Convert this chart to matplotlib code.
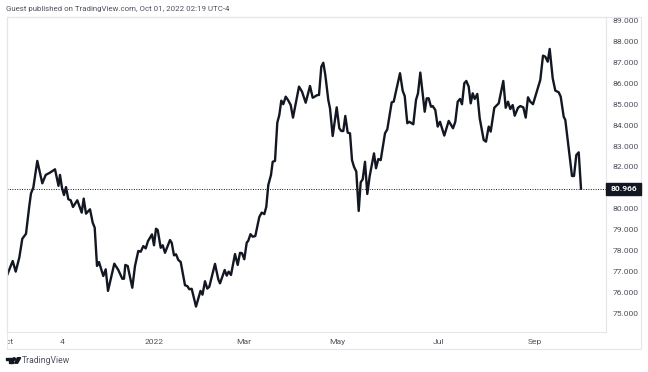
"""Recreate the TradingView line chart snapshot."""

import matplotlib

matplotlib.use("Agg")
import matplotlib.pyplot as plt
from matplotlib.patches import Circle, Polygon, Rectangle

TITLE = "Guest published on TradingView.com, Oct 01, 2022 02:19 UTC-4"
LAST_PRICE = 80.966

x_ticks = [0.5, 27.75, 73.75, 118.75, 165.25, 215.75, 264]
x_labels = ["Oct", "4", "2022", "Mar", "May", "Jul", "Sep"]
# 81 sits behind the last price badge, so it has no label
y_ticks = [75, 76, 77, 78, 79, 80, 82, 83, 84, 85, 86, 87, 88, 89]

sessions = [
    0, 3.1, 4.6, 6.4, 7.9, 9.75, 11.4, 12.25, 13.4, 15.4, 17.9, 19.6, 21.75, 24.25,
    26, 26.75, 27.75, 28.75, 29.75, 30.9, 32.1, 33.25, 35.4, 37.6, 38.6, 39.75,
    41.75, 43.1, 44.1, 45.25, 46.25, 48.4, 49.6, 50.75, 53.9, 55.9, 57.9, 58.75,
    59.4, 60.6, 62.9, 64.25, 65.9, 67.1, 68.4, 69.6, 70.75, 72.75, 73.75, 74.75,
    75.6, 77.1, 78.1, 79.25, 81.75, 82.6, 83.75, 84.75, 85.9, 87.1, 89.25, 90.4,
    91.4, 92.6, 94.75, 97, 98, 99.25, 100.4, 101.4, 104.25, 105.9, 106.75, 109.1,
    110.1, 111.1, 112.25, 114.25, 115.6, 116.75, 117.75, 118.9, 120.1, 120.9, 122,
    123.1, 124.4, 126.4, 127.6, 128.9, 129.9, 130.9, 132.25, 133.1, 134.25, 135.4,
    136.4, 137.4, 138.4, 139.6, 140.75, 142.1, 143.25, 146.25, 147.75, 149.6,
    151.75, 153.1, 154.1, 155.25, 156.25, 157.4, 158.4, 159.4, 160.9, 161.75,
    163.1, 165.1, 166.4, 167.4, 168.4, 169.4, 170.6, 171.75, 172.75, 173.75, 174.9,
    176.1, 177.1, 178.1, 179.25, 180.4, 181.6, 183.75, 184.75, 185.9, 187.1, 189.25,
    190.4, 192.6, 193.6, 196.75, 198.1, 199.1, 200.4, 201.4, 203.4, 204.75, 205.75,
    206.9, 209.1, 210.1, 211.1, 212.25, 213.1, 214.4, 215.6, 216.75, 218.9, 221.1,
    223.25, 224.4, 225.6, 226.75, 227.75, 228.9, 229.9, 231.1, 232.1, 233.1, 234.1,
    235.4, 236.6, 238.6, 239.75, 241.1, 242.1, 243.9, 246.1, 248.4, 249.6, 250.75,
    251.9, 253.1, 254.1, 255.75, 256.9, 258.4, 259.6, 260.75, 261.9, 263.25, 265.25,
    266.9, 268.25, 269.4, 270.6, 271.6, 273.1, 274.4, 276.1, 277.1, 278.6, 279.4,
    282.75, 283.75, 284.9, 286.1, 287.25,
]
prices = [
    76.76, 77.51, 77.0, 77.67, 78.57, 78.81, 80.14, 80.74, 81.01, 82.29, 81.22, 81.62, 81.73, 81.89,
    81.1, 81.62, 81.0, 80.66, 81.04, 80.46, 80.41, 80.09, 80.41, 79.82, 80.49, 79.77,
    79.98, 79.34, 79.1, 77.27, 77.46, 76.79, 77.11, 76.08, 77.38, 77.08, 76.66, 76.66,
    77.32, 77.27, 76.23, 77.27, 77.99, 77.95, 78.22, 78.11, 78.46, 78.78, 78.26, 79.05,
    78.99, 78.14, 78.26, 77.9, 78.51, 78.38, 77.78, 77.83, 77.56, 77.46, 76.35, 76.31,
    76.16, 76.18, 75.33, 76.08, 75.9, 76.54, 76.19, 76.28, 77.37, 76.63, 76.44, 77.08,
    76.81, 77.0, 76.84, 77.84, 77.32, 77.9, 77.88, 77.59, 78.38, 78.48, 78.79,
    78.67, 78.7, 79.61, 79.82, 79.75, 80.1, 81.14, 81.62, 82.25, 82.29, 84.12,
    84.48, 85.17, 85.0, 85.36, 85.2, 84.96, 84.36, 85.84, 85.6, 85.07,
    85.87, 85.31, 85.36, 85.43, 85.44, 86.79, 86.98, 86.4, 85.2, 84.8,
    83.48, 84.85, 83.85, 83.72, 83.72, 84.44, 83.64, 83.61, 82.33, 82.01, 81.78,
    79.9, 81.27, 81.41, 82.25, 80.71, 81.57, 82.65, 81.94, 82.38, 82.33, 83.61,
    83.8, 85.09, 85.12, 86.48, 85.64, 85.39, 84.09, 84.16, 84.04, 85.2, 85.52,
    86.51, 84.64, 85.28, 85.28, 84.88, 84.91, 84.72, 83.93, 84.16, 83.5, 84.2,
    83.85, 84.16, 85.12, 85.25, 85.0, 86.0, 86.11, 85.84, 85.04, 85.52, 85.25,
    85.49, 84.33, 83.29, 83.21, 83.93, 83.69, 84.83, 85.04, 86.11, 84.83, 85.12,
    84.77, 84.96, 84.45, 84.83, 84.91, 84.85, 84.36, 85.33, 85.12, 85.0, 85.63,
    86.16, 87.32, 87.27, 87.03, 87.64, 86.24, 85.65, 85.57, 85.36, 84.4, 84.25,
    81.57, 81.57, 82.57, 82.7, LAST_PRICE,
]

INK = "#131722"
TEXT = "#50535e"
FRAME = "#e6e6e6"
W, H = 648, 372


def main() -> None:
    plt.rcParams["font.family"] = "Roboto"
    fig = plt.figure(figsize=(W / 100, H / 100), dpi=100, facecolor="white")

    # pane position in pixels: x 6.5..606, y 17..332
    ax = fig.add_axes([6.5 / W, 1 - 332 / H, 599.5 / W, 315 / H])
    ax.plot(sessions, prices, color=INK, lw=1.7, solid_joinstyle="round")
    ax.axhline(LAST_PRICE, color=INK, lw=0.7, ls=(0, (1, 1.5)))
    ax.set_xlim(0, 299.75)
    ax.set_ylim(74.116, 89.166)
    ax.set_xticks(x_ticks, x_labels)
    ax.set_yticks(y_ticks, [f"{v:.3f}" for v in y_ticks])
    ax.yaxis.tick_right()
    ax.tick_params(axis="x", length=0, pad=5, labelsize=6.1, labelcolor=TEXT)
    ax.tick_params(axis="y", length=0, pad=4.5, labelsize=6.1, labelcolor=TEXT)
    for spine in ax.spines.values():
        spine.set_color(FRAME)
        spine.set_linewidth(0.8)

    # overlay in pixel coordinates for the outer frame, price badge and logo
    over = fig.add_axes([0, 0, 1, 1], facecolor="none")
    over.set_xlim(0, W)
    over.set_ylim(H, 0)
    over.axis("off")
    over.add_patch(Rectangle((0, 333), 6, 15, color="white", zorder=3))
    over.plot([6.5, 6.5, 641, 641, 6.5], [17, 349, 349, 17, 17], color=FRAME, lw=0.8)
    over.add_patch(Rectangle((606, 182.7), 35, 12, color=INK, zorder=3))
    over.text(623.5, 188.9, f"{LAST_PRICE:.3f}", color="white", fontsize=6.1, fontweight="bold",
              ha="center", va="center", zorder=4)
    over.text(6.5, 9.5, TITLE, color=TEXT, fontsize=5.7, ha="left", va="center")

    # TradingView logo
    over.add_patch(Polygon([(6, 357.7), (12.6, 357.7), (12.6, 363.2), (9.4, 363.2), (9.4, 360.2), (6, 360.2)], color=INK))
    over.add_patch(Circle((14.2, 359), 1.2, color=INK))
    over.add_patch(Polygon([(17.4, 357.7), (20.7, 357.7), (17.6, 363.2), (14.6, 363.2)], color=INK))
    over.text(22, 360.5, "TradingView", color=TEXT, fontsize=6.2, ha="left", va="center")

    fig.savefig("out.png", dpi=100)


if __name__ == "__main__":
    main()
